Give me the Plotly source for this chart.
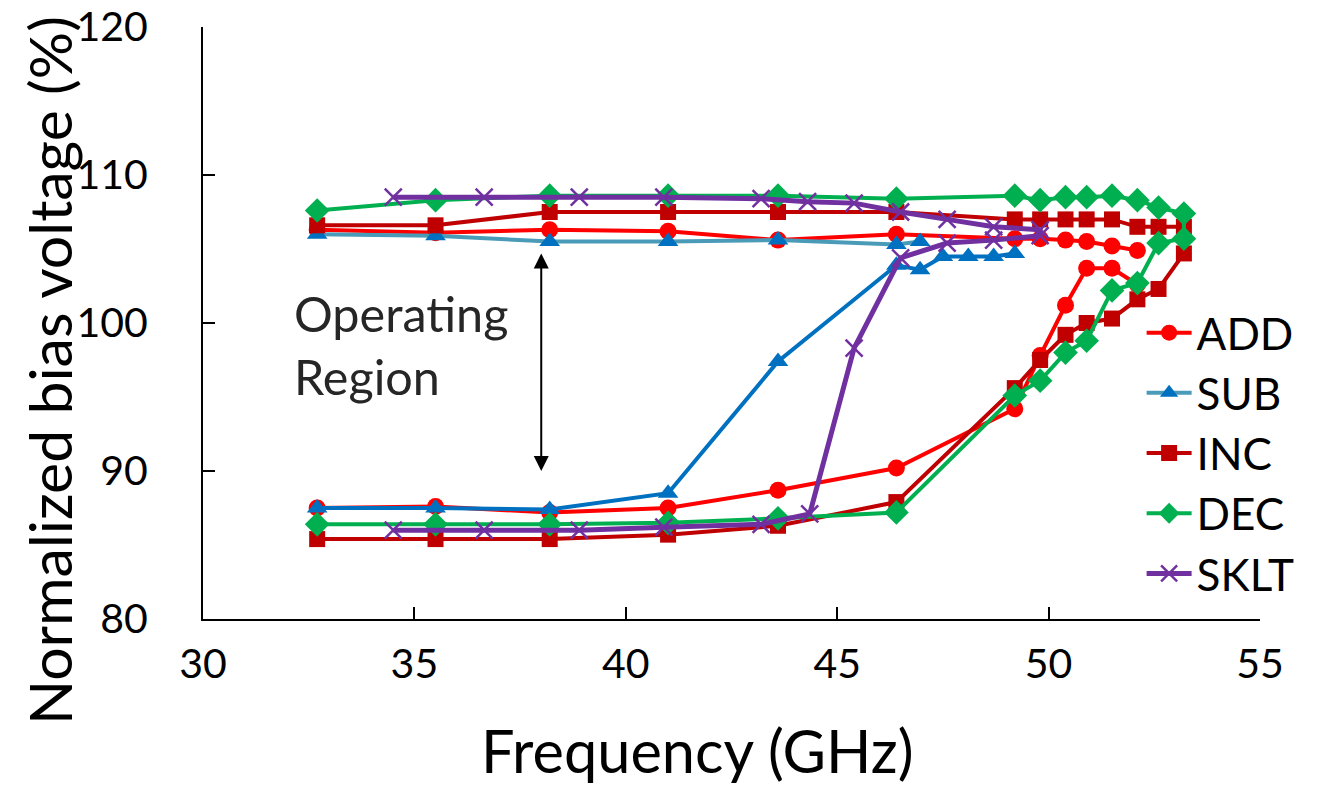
import plotly.graph_objects as go

# ---------------- data ----------------
add_lower_x = [32.7, 35.5, 38.2, 41.0, 43.6, 46.4, 49.2, 49.8, 50.4, 50.9, 51.5, 52.1]
add_lower_y = [87.5, 87.6, 87.2, 87.5, 88.7, 90.2, 94.2, 97.8, 101.2, 103.7, 103.7, 102.6]
add_upper_x = [32.7, 35.5, 38.2, 41.0, 43.6, 46.4, 49.2, 49.8, 50.4, 50.9, 51.5, 52.1]
add_upper_y = [106.3, 106.1, 106.3, 106.2, 105.6, 106.0, 105.7, 105.7, 105.6, 105.5, 105.2, 104.9]

sub_upper_x = [32.7, 35.5, 38.2, 41.0, 43.6, 46.4, 46.96]
sub_upper_y = [106.0, 105.9, 105.5, 105.5, 105.6, 105.3, 105.5]
sub_lower_x = [32.7, 35.5, 38.2, 41.0, 43.6, 46.4, 46.96, 47.5, 48.1, 48.7, 49.2]
sub_lower_y = [87.5, 87.5, 87.4, 88.5, 97.4, 103.9, 103.6, 104.5, 104.5, 104.5, 104.7]

inc_x = [32.7, 35.5, 38.2, 41.0, 43.6, 46.4, 49.2, 49.8, 50.4, 50.9, 51.5, 52.1, 52.6, 53.2,
         53.2, 52.6, 52.1, 51.5, 50.9, 50.4, 49.8, 49.2, 46.4, 43.6, 41.0, 38.2, 35.5, 32.7]
inc_y = [85.4, 85.4, 85.4, 85.7, 86.3, 87.9, 95.6, 97.5, 99.2, 100.0, 100.3, 101.6, 102.3, 104.7,
         106.5, 106.5, 106.5, 107.0, 107.0, 107.0, 107.0, 107.0, 107.5, 107.5, 107.5, 107.5, 106.6, 106.6]

dec_x = [32.7, 35.5, 38.2, 41.0, 43.6, 46.4, 49.2, 49.8, 50.4, 50.9, 51.5, 52.1, 52.6, 53.2,
         53.2, 52.6, 52.1, 51.5, 50.9, 50.4, 49.8, 49.2, 46.4, 43.6, 41.0, 38.2, 35.5, 32.7]
dec_y = [86.4, 86.4, 86.4, 86.5, 86.8, 87.2, 95.1, 96.1, 98.0, 98.8, 102.2, 102.7, 105.4, 105.7,
         107.4, 107.8, 108.3, 108.6, 108.5, 108.5, 108.3, 108.6, 108.4, 108.6, 108.6, 108.6, 108.3, 107.6]

sklt_x = [34.5, 36.65, 38.9, 40.9, 43.2, 44.35, 45.4, 46.5, 47.6, 48.7, 49.8,
          49.8, 48.7, 47.6, 46.5, 45.4, 44.3, 43.2, 40.9, 38.9, 36.65, 34.5]
sklt_y = [86.0, 86.0, 86.0, 86.2, 86.4, 87.1, 98.3, 104.4, 105.4, 105.6, 105.9,
          106.3, 106.5, 107.0, 107.5, 108.1, 108.2, 108.4, 108.5, 108.5, 108.5, 108.5]

arrow_x = 38.0
arrow_top = 104.7
arrow_bottom = 89.9

x_ticks = [30, 35, 40, 45, 50, 55]
y_ticks = [80, 90, 100, 110, 120]

x_title = "Frequency (GHz)"
y_title = "Normalized bias voltage (%)"

FONT = "Lato"

fig = go.Figure()

def add(x, y, name, color, symbol, size, lw=4, mcolor=None, show=True, mline=0):
    fig.add_trace(go.Scatter(
        x=x, y=y, mode="lines+markers", name=name, legendgroup=name, showlegend=show,
        line=dict(color=color, width=lw),
        marker=dict(symbol=symbol, size=size, color=mcolor or color,
                    line=dict(width=mline, color=mcolor or color)),
    ))

add(add_lower_x, add_lower_y, "ADD", "#FF0000", "circle", 17, show=False)
add(add_upper_x, add_upper_y, "ADD", "#FF0000", "circle", 17)
add(sub_upper_x, sub_upper_y, "SUB", "#4A9BB8", "triangle-up", 18, mcolor="#0070C0")
add(sub_lower_x, sub_lower_y, "SUB", "#0070C0", "triangle-up", 18, show=False)
add(inc_x, inc_y, "INC", "#C00000", "square", 16)
add(dec_x, dec_y, "DEC", "#00B050", "diamond", 19)
add(sklt_x, sklt_y, "SKLT", "#7030A0", "x-thin", 17, lw=5, mline=2.5)

fig.add_annotation(x=arrow_x, y=arrow_top, ax=arrow_x, ay=arrow_bottom,
                   xref="x", yref="y", axref="x", ayref="y", text="",
                   showarrow=True, arrowhead=2, arrowside="end+start",
                   arrowsize=1.5, arrowwidth=2, arrowcolor="black")
fig.add_annotation(x=32.1, y=98.55, xref="x", yref="y", text="Operating<br>Region",
                   showarrow=False, xanchor="left", yanchor="middle", align="left",
                   font=dict(family=FONT, size=48.5, color="#262626"))

# axis titles (placed as in the reference, not centred on the plot area)
fig.add_annotation(x=0.468, y=-0.221, xref="paper", yref="paper", text=x_title,
                   showarrow=False, xanchor="center", yanchor="middle",
                   font=dict(family=FONT, size=59.5, color="black"))
fig.add_annotation(x=-0.1447, y=0.419, xref="paper", yref="paper", text=y_title,
                   showarrow=False, xanchor="center", yanchor="middle", textangle=-90,
                   font=dict(family=FONT, size=59, color="black"))

axis_common = dict(showline=True, linecolor="black", linewidth=2, ticks="inside",
                   ticklen=12, tickwidth=2, tickcolor="black", showgrid=False,
                   zeroline=False, automargin=False, ticklabeloverflow="allow",
                   tickfont=dict(family=FONT, size=41, color="black"))

# page body has an 8px margin: figure sits at (8, 8)
fig.update_layout(
    width=1311, height=778,
    margin=dict(l=195, r=59, t=19, b=167),
    paper_bgcolor="white", plot_bgcolor="white",
    font=dict(family=FONT, color="black"),
    xaxis=dict(range=[30, 55], tickvals=x_ticks, ticklabelstandoff=8, **axis_common),
    yaxis=dict(range=[80, 120], tickvals=y_ticks, ticklabelstandoff=45, **axis_common),
    legend=dict(x=0.888, y=0.543, xanchor="left", yanchor="top", bgcolor="rgba(0,0,0,0)",
                font=dict(family=FONT, size=44), itemwidth=45, tracegroupgap=0),
    showlegend=True,
)

fig.write_html("out.html")
